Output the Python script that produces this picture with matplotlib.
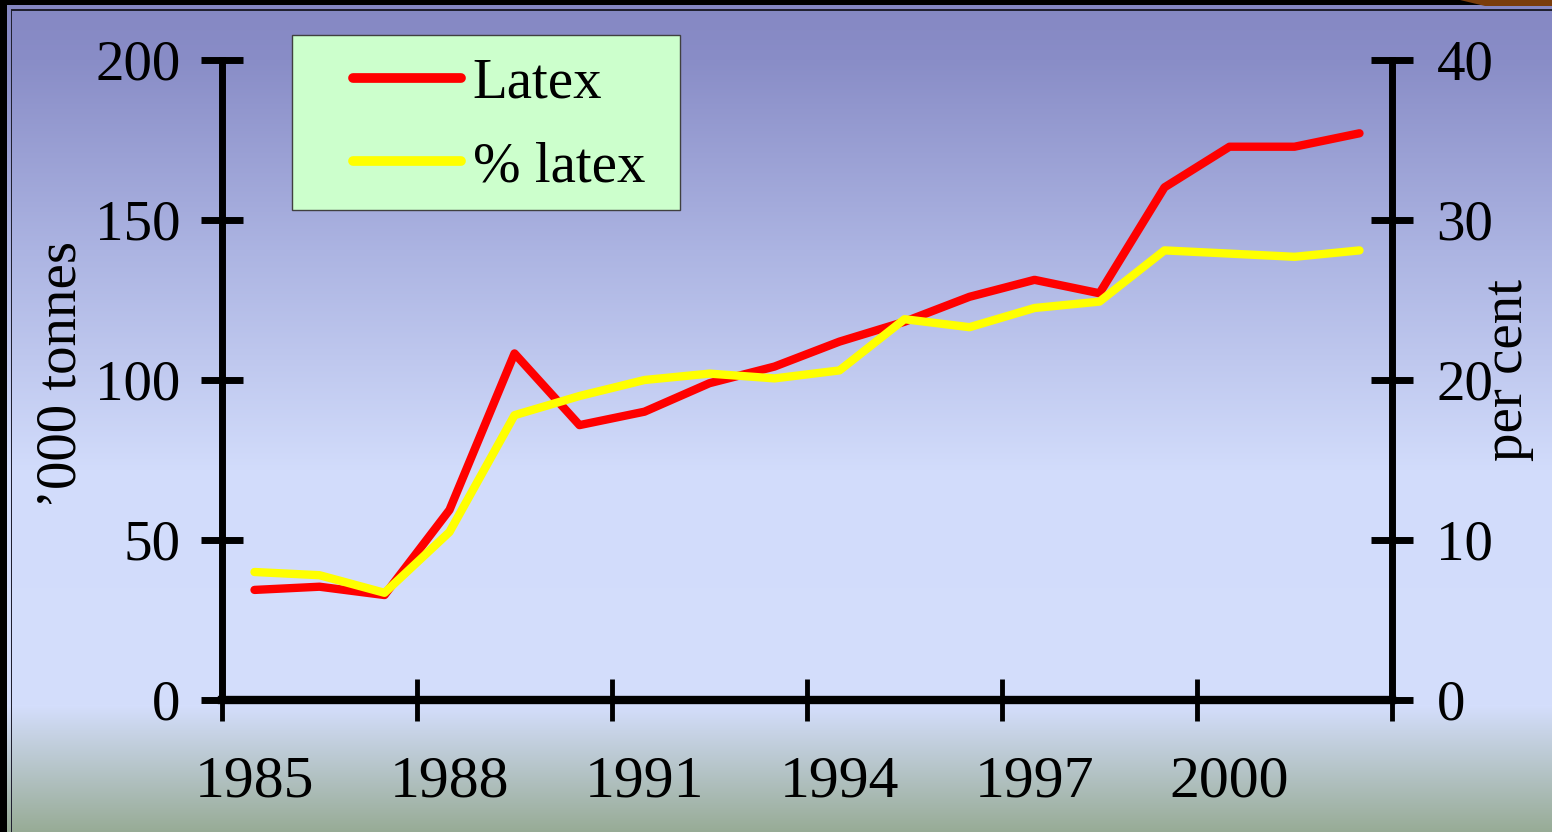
#!/usr/bin/env python3
"""
Latex production ('000 tonnes) and latex share (per cent), 1985-2002.
"""

import numpy as np
import matplotlib
matplotlib.use("Agg")
import matplotlib.pyplot as plt
from matplotlib.patches import Rectangle, Polygon
from matplotlib.colors import to_rgb

plt.rcParams['font.family'] = ['Liberation Serif', 'DejaVu Serif']

# Data
years = list(range(1985, 2003))
latex = [34.4, 35.4, 32.8, 59.4, 108.3, 85.9, 90.1, 99.0, 104.2, 112.0,
         118.2, 126.0, 131.3, 127.1, 160.2, 172.9, 172.9, 177.1]
pct_latex = [8.0, 7.8, 6.7, 10.5, 17.8, 19.0, 20.0, 20.4, 20.1, 20.6,
             23.8, 23.3, 24.5, 24.9, 28.1, 27.9, 27.7, 28.1]
left_ticks = [0, 50, 100, 150, 200]
right_ticks = [0, 10, 20, 30, 40]
label_every = 3

W, H = 1552, 832
fig = plt.figure(figsize=(W / 100, H / 100), dpi=100)

# Background gradient (top purple -> light blue -> grey-green at bottom)
stops_y = [0, 60, 250, 470, 705, 832]
stops_c = ['#8587c3', '#898dc7', '#acb4e2', '#d2dcfb', '#d4defc', '#97ab95']
rows = np.arange(H)
rgb = np.array([to_rgb(c) for c in stops_c])
grad = np.stack([np.interp(rows, stops_y, rgb[:, k]) for k in range(3)], axis=1)
bg = fig.add_axes([0, 0, 1, 1], zorder=-10)
bg.imshow(grad[:, None, :], aspect='auto', extent=(0, 1, 0, 1))
bg.set_axis_off()

# Frame decorations
def px_rect(x0, y0, x1, y1, color):
    fig.patches.append(Rectangle((x0 / W, 1 - y1 / H), (x1 - x0) / W, (y1 - y0) / H,
                                 transform=fig.transFigure, facecolor=color,
                                 edgecolor='none', zorder=-5))

px_rect(0, 0, 7, H, 'black')
px_rect(0, 0, W, 5, 'black')
px_rect(11, 9, 12.5, H, '#202030')
px_rect(11, 9, W, 10.5, '#202030')
fig.patches.append(Polygon([(1460 / W, 1), (1, 1), (1, 1 - 6 / H), (1485 / W, 1 - 6 / H)],
                           closed=True, transform=fig.transFigure,
                           facecolor='#7a3d0c', edgecolor='none', zorder=-4))

# Main axes
x = np.arange(len(years))
ax = fig.add_axes([222 / W, 1 - 700 / H, (1392 - 222) / W, (700 - 60) / H])
ax.patch.set_visible(False)
ax.plot(x, latex, color='#ff0000', linewidth=6, solid_capstyle='round',
        solid_joinstyle='round', label='Latex')
ax.set_xlim(-0.5, len(years) - 0.5)
ax.set_ylim(0, 200)

ax2 = ax.twinx()
ax2.patch.set_visible(False)
ax2.plot(x, pct_latex, color='#ffff00', linewidth=6, solid_capstyle='round',
         solid_joinstyle='round', label='% latex')
ax2.set_ylim(0, 40)

for s in ['top', 'right']:
    ax.spines[s].set_visible(False)
for s in ['top', 'left', 'bottom']:
    ax2.spines[s].set_visible(False)
ax.spines['left'].set_linewidth(5)
ax.spines['bottom'].set_linewidth(6)
ax2.spines['right'].set_linewidth(5)

# Category axis: tick marks between groups, labels on the categories
ax.set_xticks(np.arange(-0.5, len(years), label_every))
ax.set_xticklabels([])
ax.set_xticks(x[::label_every], minor=True)
ax.set_xticklabels([str(y) for y in years[::label_every]], minor=True)
ax.tick_params(axis='x', which='major', direction='inout', length=30, width=3.5)
ax.tick_params(axis='x', which='minor', length=0, pad=40, labelsize=43)

ax.set_yticks(left_ticks)
ax.tick_params(axis='y', direction='inout', length=30, width=5, pad=15, labelsize=41)
ax2.set_yticks(right_ticks)
ax2.tick_params(axis='y', direction='inout', length=30, width=5, pad=17, labelsize=41)

ax.set_ylabel('\u2019000 tonnes', fontsize=41, va='center')
ax.yaxis.set_label_coords(62 / W, 1 - 375 / H, transform=fig.transFigure)
ax2.set_ylabel('per cent', fontsize=41, rotation=90, va='center')
ax2.yaxis.set_label_coords(1508 / W, 1 - 370 / H, transform=fig.transFigure)

# Legend box drawn separately so the padding matches
fig.patches.append(Rectangle((292 / W, 1 - 210 / H), 388 / W, 175 / H,
                             transform=fig.transFigure, facecolor='#ccffcc',
                             edgecolor='#404040', linewidth=1, zorder=1))
handles = ax.get_lines() + ax2.get_lines()
leg = fig.legend(handles, [h.get_label() for h in handles], loc='upper left',
                 bbox_to_anchor=(353 / W, 1 - 58 / H), frameon=False, fontsize=41,
                 borderpad=0, borderaxespad=0, handlelength=1.9, handletextpad=0.2,
                 labelspacing=0.55)
for h in leg.get_lines():
    h.set_linewidth(7)
leg.set_zorder(5)

fig.savefig('out.png', dpi=100)
